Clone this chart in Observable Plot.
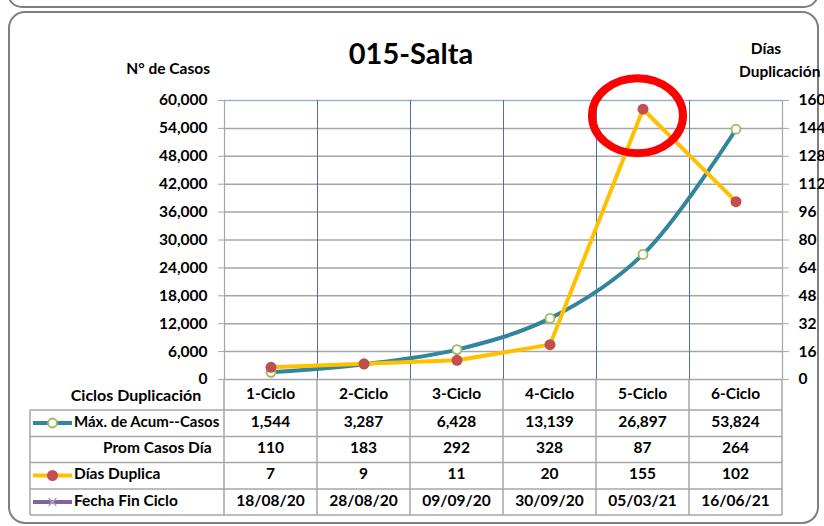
<!DOCTYPE html>
<html>
<head>
<meta charset="utf-8">
<script src="https://cdn.jsdelivr.net/npm/d3@7"></script>
<script src="https://cdn.jsdelivr.net/npm/@observablehq/plot@0.6"></script>
<style>
  html, body { margin: 0; padding: 0; background: #fff; }
  #chart { position: relative; width: 824px; height: 526px; overflow: hidden; }
  #chart svg { position: absolute; left: 0; top: 0; }
</style>
</head>
<body>
<div id="chart"></div>
<script>
// ---- data ----
const cats = ["1-Ciclo", "2-Ciclo", "3-Ciclo", "4-Ciclo", "5-Ciclo", "6-Ciclo"];
const maxCasos = [1544, 3287, 6428, 13139, 26897, 53824];
const promCasos = [110, 183, 292, 328, 87, 264];
const diasDuplica = [7, 9, 11, 20, 155, 102];
const fechaFin = ["18/08/20", "28/08/20", "09/09/20", "30/09/20", "05/03/21", "16/06/21"];
const yTicksLeft = [0, 6000, 12000, 18000, 24000, 30000, 36000, 42000, 48000, 54000, 60000];
const yTicksRight = [0, 16, 32, 48, 64, 80, 96, 112, 128, 144, 160];
const title = "015-Salta";
const rowLabels = ["Máx. de Acum--Casos", "Prom Casos Día", "Días Duplica", "Fecha Fin Ciclo"];

const K = 60000 / 160; // right axis -> left axis units
const teal = "#31859C", yellow = "#FFC000", red = "#C0504D", green = "#9BBB59", purple = "#8064A2";
const font = "Lato, 'Open Sans', sans-serif";

const casosData = cats.map((c, i) => ({i: i + 0.5, v: maxCasos[i]}));
const diasData = cats.map((c, i) => ({i: i + 0.5, v: diasDuplica[i] * K}));

const plot = Plot.plot({
  width: 824, height: 526,
  marginLeft: 224, marginRight: 42, marginTop: 100, marginBottom: 147,
  x: {domain: [0, 6], axis: null},
  y: {domain: [0, 60000], axis: null},
  style: {fontFamily: font, fontWeight: "bold", fontSize: "15px", color: "#000", background: "transparent", overflow: "visible"},
  marks: [
    Plot.ruleY(yTicksLeft.slice(0, -1), {stroke: "#a6a6a6", strokeWidth: 1.5}),
    Plot.ruleY([60000], {stroke: "#95B3D7", strokeWidth: 1.5}),
    Plot.ruleX([1, 2, 3, 4, 5], {stroke: "#4F6FA8", strokeWidth: 1}),
    Plot.ruleX([0, 6], {stroke: "#a6a6a6", strokeWidth: 1.2}),
    Plot.axisY({ticks: yTicksLeft, tickFormat: d3.format(","), tickSize: 6, tickPadding: 11,
      stroke: "#a6a6a6", fill: "#000", fontSize: 15.5, fontWeight: "bold", label: null}),
    Plot.axisY({anchor: "right", ticks: yTicksRight.map(d => d * K), tickFormat: d => String(Math.round(d / K)),
      tickSize: 6, tickPadding: 10, stroke: "#a6a6a6", fill: "#000", fontSize: 15.5, fontWeight: "bold", label: null}),
    Plot.line(casosData, {x: "i", y: "v", stroke: teal, strokeWidth: 4, curve: "catmull-rom"}),
    Plot.line(diasData, {x: "i", y: "v", stroke: yellow, strokeWidth: 4}),
    Plot.dot(casosData, {x: "i", y: "v", r: 4.5, fill: "#fff", stroke: green, strokeWidth: 1.8}),
    Plot.dot(diasData, {x: "i", y: "v", r: 5.5, fill: red, stroke: "none"})
  ]
});

const svg = d3.select(plot);
const xs = plot.scale("x"), ys = plot.scale("y");
const X = v => xs.apply(v), Y = v => ys.apply(v);

// frames (behind)
const bg = svg.insert("g", ":first-child");
bg.append("rect").attr("x", 8).attr("y", -40).attr("width", 810).attr("height", 47).attr("rx", 14)
  .attr("fill", "#fff").attr("stroke", "#7f7f7f").attr("stroke-width", 2);
bg.append("rect").attr("x", 9).attr("y", 12).attr("width", 809).attr("height", 511).attr("rx", 16)
  .attr("fill", "#fff").attr("stroke", "#7f7f7f").attr("stroke-width", 2);

const g = svg.append("g").attr("font-family", font).attr("font-weight", "bold").attr("fill", "#000");

const txt = (parent, x, y, s, size, anchor) => parent.append("text").attr("x", x).attr("y", y)
  .attr("text-anchor", anchor).attr("dominant-baseline", "middle").attr("font-size", size).text(s);

// titles
txt(g, 411, 57, title, 29, "middle");
txt(g, 210, 70, "N° de Casos", 15.5, "end");
txt(g, 766, 50, "Días", 15.5, "middle");
txt(g, 739, 73, "Duplicación", 15.5, "start");

// red annotation ellipse around the peak
g.append("ellipse").attr("cx", X(4.5) - 5).attr("cy", Y(155 * K) + 7).attr("rx", 45.5).attr("ry", 37.5)
  .attr("fill", "none").attr("stroke", "#FF0000").attr("stroke-width", 8);

// table
const rowLines = [410, 436.5, 462.5, 489, 515];
const rowMid = [423, 449.5, 475.5, 502];
const gridC = "#a6a6a6";
const t = g.append("g");
rowLines.forEach(y => t.append("line").attr("x1", 30).attr("x2", X(6)).attr("y1", y).attr("y2", y)
  .attr("stroke", gridC).attr("stroke-width", 1.5));
t.append("line").attr("x1", 30).attr("x2", 30).attr("y1", rowLines[0]).attr("y2", rowLines[4]).attr("stroke", gridC).attr("stroke-width", 1.5);
d3.range(0, 7).forEach(i => t.append("line").attr("x1", X(i)).attr("x2", X(i)).attr("y1", Y(0)).attr("y2", rowLines[4])
  .attr("stroke", gridC).attr("stroke-width", 1.5));

txt(t, 136, 396.5, "Ciclos Duplicación", 16, "middle");
cats.forEach((c, i) => txt(t, X(i + 0.5), 395, c, 15.5, "middle"));

const rows = [maxCasos.map(d3.format(",")), promCasos.map(String), diasDuplica.map(String), fechaFin];
rows.forEach((r, ri) => r.forEach((v, i) => txt(t, X(i + 0.5), rowMid[ri], v, 15.5, "middle")));

// row labels with legend keys
const labX = [74, 103, 74, 74];
const labSize = [15, 15.5, 15.5, 15.5];
rowLabels.forEach((l, ri) => txt(t, labX[ri], rowMid[ri], l, labSize[ri], "start"));
// key 1
t.append("line").attr("x1", 33).attr("x2", 72).attr("y1", rowMid[0]).attr("y2", rowMid[0]).attr("stroke", teal).attr("stroke-width", 4);
t.append("circle").attr("cx", 52.5).attr("cy", rowMid[0]).attr("r", 4.5).attr("fill", "#fff").attr("stroke", green).attr("stroke-width", 1.8);
// key 3
t.append("line").attr("x1", 33).attr("x2", 72).attr("y1", rowMid[2]).attr("y2", rowMid[2]).attr("stroke", yellow).attr("stroke-width", 4);
t.append("circle").attr("cx", 52.5).attr("cy", rowMid[2]).attr("r", 5.5).attr("fill", red);
// key 4
t.append("line").attr("x1", 33).attr("x2", 72).attr("y1", rowMid[3]).attr("y2", rowMid[3]).attr("stroke", purple).attr("stroke-width", 4);
const cx = 52.5, cy = rowMid[3];
t.append("path").attr("d", `M${cx-4},${cy-4}L${cx+4},${cy+4}M${cx-4},${cy+4}L${cx+4},${cy-4}`)
  .attr("stroke", "#B3A2C7").attr("stroke-width", 1.5);

document.getElementById("chart").appendChild(plot);
</script>
</body>
</html>
